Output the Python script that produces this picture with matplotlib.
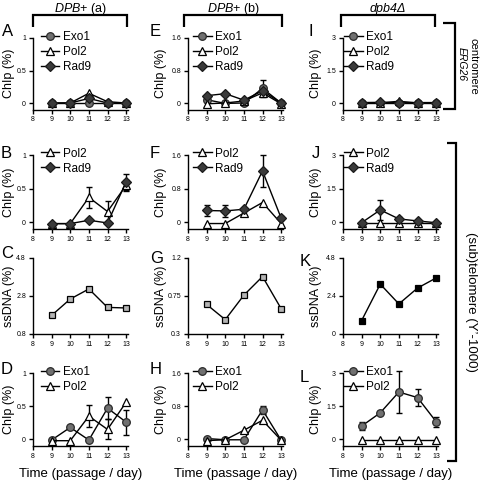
import matplotlib
matplotlib.use('Agg')
import matplotlib.pyplot as plt
from matplotlib.lines import Line2D

plt.rcParams['font.family'] = ['Liberation Sans', 'DejaVu Sans']
plt.rcParams['mathtext.fontset'] = 'custom'
plt.rcParams['mathtext.it'] = 'Liberation Sans:italic'
plt.rcParams['mathtext.rm'] = 'Liberation Sans'

# ---------------- data ----------------
days = [9, 10, 11, 12, 13]
xticks = [8, 9, 10, 11, 12, 13]

A_exo1 = [0.0, 0.0, 0.0, 0.0, 0.0]
A_pol2 = [0.0, 0.0, 0.15, 0.02, 0.0]
A_rad9 = [0.0, 0.0, 0.07, 0.0, 0.0]

E_exo1 = [0.08, -0.01, 0.0, 0.36, 0.0]
E_exo1_err = [0, 0, 0, 0.21, 0]
E_pol2 = [-0.02, 0.0, 0.05, 0.25, -0.02]
E_rad9 = [0.18, 0.23, 0.07, 0.30, 0.0]

I_exo1 = [0.0, 0.0, 0.0, 0.0, 0.0]
I_pol2 = [0.0, 0.0, 0.08, 0.0, 0.0]
I_rad9 = [0.02, 0.03, 0.02, 0.02, 0.02]

B_pol2 = [-0.02, -0.02, 0.37, 0.16, 0.55]
B_pol2_err = [0, 0, 0.16, 0.16, 0.08]
B_rad9 = [-0.02, -0.02, 0.03, -0.01, 0.60]
B_rad9_err = [0, 0, 0, 0, 0.12]

F_pol2 = [-0.03, -0.03, 0.22, 0.47, -0.03]
F_rad9 = [0.28, 0.27, 0.31, 1.22, 0.10]
F_rad9_err = [0.13, 0.14, 0, 0.38, 0.05]

J_pol2 = [-0.05, -0.05, -0.05, -0.05, -0.05]
J_rad9 = [-0.02, 0.55, 0.15, 0.06, -0.02]
J_rad9_err = [0, 0.45, 0.10, 0, 0]

C_ss = [1.78, 2.64, 3.17, 2.20, 2.17]
G_ss = [0.65, 0.47, 0.76, 0.98, 0.60]
K_ss = [0.85, 3.15, 1.90, 2.90, 3.54]

D_exo1 = [-0.01, 0.18, -0.01, 0.47, 0.26]
D_exo1_err = [0, 0, 0, 0.17, 0.19]
D_pol2 = [-0.02, -0.02, 0.35, 0.15, 0.56]
D_pol2_err = [0, 0, 0.17, 0.15, 0]

H_exo1 = [0.02, -0.01, -0.01, 0.71, -0.02]
H_exo1_err = [0, 0, 0, 0.09, 0]
H_pol2 = [-0.03, -0.01, 0.22, 0.46, -0.02]

L_exo1 = [0.60, 1.20, 2.14, 1.89, 0.80]
L_exo1_err = [0.18, 0.07, 0.95, 0.40, 0.22]
L_pol2 = [-0.03, -0.03, -0.03, -0.03, -0.03]

yt_chip1 = [0, 0.5, 1]
yt_chip1_lab = ['0', '0.5', '1']
yt_chip16 = [0, 0.8, 1.6]
yt_chip16_lab = ['0', '0.8', '1.6']
yt_chip3 = [0, 1.5, 3]
yt_chip3_lab = ['0', '1.5', '3']
yt_C = [0.8, 2.8, 4.8]
yt_C_lab = ['0.8', '2.8', '4.8']
yt_G = [0.3, 0.75, 1.2]
yt_G_lab = ['0.3', '0.75', '1.2']
yt_K = [0, 2.4, 4.8]
yt_K_lab = ['0', '2.4', '4.8']

# ---------------- styles ----------------
STY = {
    'Exo1': dict(marker='o', mfc='#707070', mec='#2a2a2a', ms=5.5),
    'Pol2': dict(marker='^', mfc='white', mec='black', ms=5.5),
    'Rad9': dict(marker='D', mfc='#3a3a3a', mec='#1a1a1a', ms=4.8),
    'ssg': dict(marker='s', mfc='#b4b4b4', mec='black', ms=5),
    'ssk': dict(marker='s', mfc='black', mec='black', ms=5),
}

fig = plt.figure(figsize=(4.8, 4.8), dpi=100)
W = H = 480.0

col_left = [33, 188, 343]
col_w = 95
rows = [(38, 109.5), (155, 229), (258, 334), (373, 446)]
ylab_x = [-0.19, -0.22, -0.22]


def make_ax(c, r):
    t, b = rows[r]
    ax = fig.add_axes([col_left[c] / W, 1 - b / H, col_w / W, (b - t) / H])
    ax.spines[['top', 'right']].set_visible(False)
    for s in ['left', 'bottom']:
        ax.spines[s].set_linewidth(1.0)
    ax.set_xlim(8, 13.1)
    ax.set_xticks(xticks)
    ax.set_xticklabels([str(v) for v in xticks])
    ax.tick_params(direction='out', length=3, width=1, labelsize=5, pad=2)
    return ax


def series(ax, y, key, label=None, err=None):
    st = STY[key]
    ax.plot(days, y, color='black', lw=1.0, marker=st['marker'], mfc=st['mfc'],
            mec=st['mec'], ms=st['ms'], mew=0.9, label=label, clip_on=False, zorder=3)
    if err is not None:
        xs = [d for d, e in zip(days, err) if e > 0]
        ys = [v for v, e in zip(y, err) if e > 0]
        es = [e for e in err if e > 0]
        ax.errorbar(xs, ys, yerr=es, fmt='none', ecolor='black', elinewidth=1.0,
                    capsize=2, capthick=1.0, clip_on=False, zorder=2)


def finish(ax, yt, ylab, ymin, ylabel, c, legend=True):
    ax.set_ylim(ymin, yt[-1])
    ax.set_yticks(yt)
    ax.set_yticklabels(ylab)
    ax.set_ylabel(ylabel, fontsize=9)
    ax.yaxis.set_label_coords(ylab_x[c], 0.5)
    if legend:
        ax.legend(loc='upper left', bbox_to_anchor=([0.08, 0.05, 0.01][c], 1.1),
                  frameon=False, fontsize=8.5, handlelength=1.6, handletextpad=0.3,
                  labelspacing=0.25, borderpad=0, borderaxespad=0)


# Row 1
ax = make_ax(0, 0)
series(ax, A_exo1, 'Exo1', 'Exo1'); series(ax, A_pol2, 'Pol2', 'Pol2'); series(ax, A_rad9, 'Rad9', 'Rad9')
finish(ax, yt_chip1, yt_chip1_lab, -0.1, 'ChIp (%)', 0)
ax = make_ax(1, 0)
series(ax, E_exo1, 'Exo1', 'Exo1', E_exo1_err); series(ax, E_pol2, 'Pol2', 'Pol2'); series(ax, E_rad9, 'Rad9', 'Rad9')
finish(ax, yt_chip16, yt_chip16_lab, -0.16, 'ChIp (%)', 1)
ax = make_ax(2, 0)
series(ax, I_exo1, 'Exo1', 'Exo1'); series(ax, I_pol2, 'Pol2', 'Pol2'); series(ax, I_rad9, 'Rad9', 'Rad9')
finish(ax, yt_chip3, yt_chip3_lab, -0.3, 'ChIp (%)', 2)

# Row 2
ax = make_ax(0, 1)
series(ax, B_pol2, 'Pol2', 'Pol2', B_pol2_err); series(ax, B_rad9, 'Rad9', 'Rad9', B_rad9_err)
finish(ax, yt_chip1, yt_chip1_lab, -0.1, 'ChIp (%)', 0)
ax = make_ax(1, 1)
series(ax, F_pol2, 'Pol2', 'Pol2'); series(ax, F_rad9, 'Rad9', 'Rad9', F_rad9_err)
finish(ax, yt_chip16, yt_chip16_lab, -0.16, 'ChIp (%)', 1)
ax = make_ax(2, 1)
series(ax, J_pol2, 'Pol2', 'Pol2'); series(ax, J_rad9, 'Rad9', 'Rad9', J_rad9_err)
finish(ax, yt_chip3, yt_chip3_lab, -0.3, 'ChIp (%)', 2)

# Row 3
ax = make_ax(0, 2)
series(ax, C_ss, 'ssg')
finish(ax, yt_C, yt_C_lab, 0.8, 'ssDNA (%)', 0, legend=False)
ax = make_ax(1, 2)
series(ax, G_ss, 'ssg')
finish(ax, yt_G, yt_G_lab, 0.3, 'ssDNA (%)', 1, legend=False)
ax = make_ax(2, 2)
series(ax, K_ss, 'ssk')
finish(ax, yt_K, yt_K_lab, 0.0, 'ssDNA (%)', 2, legend=False)

# Row 4
ax = make_ax(0, 3)
series(ax, D_exo1, 'Exo1', 'Exo1', D_exo1_err); series(ax, D_pol2, 'Pol2', 'Pol2', D_pol2_err)
finish(ax, yt_chip1, yt_chip1_lab, -0.1, 'ChIp (%)', 0)
ax.set_xlabel('Time (passage / day)', fontsize=9.5, labelpad=6)
ax = make_ax(1, 3)
series(ax, H_exo1, 'Exo1', 'Exo1', H_exo1_err); series(ax, H_pol2, 'Pol2', 'Pol2')
finish(ax, yt_chip16, yt_chip16_lab, -0.16, 'ChIp (%)', 1)
ax.set_xlabel('Time (passage / day)', fontsize=9.5, labelpad=6)
ax = make_ax(2, 3)
series(ax, L_exo1, 'Exo1', 'Exo1', L_exo1_err); series(ax, L_pol2, 'Pol2', 'Pol2')
finish(ax, yt_chip3, yt_chip3_lab, -0.3, 'ChIp (%)', 2)
ax.set_xlabel('Time (passage / day)', fontsize=9.5, labelpad=6)

# ---------------- annotations ----------------
def fx(x):
    return x / W


def fy(y):
    return 1 - y / H


def fline(xs, ys, lw=1.6):
    fig.add_artist(Line2D([fx(x) for x in xs], [fy(y) for y in ys], color='black',
                          lw=lw, transform=fig.transFigure, solid_capstyle='butt',
                          solid_joinstyle='miter'))


letters = [('A', 2, 24), ('B', 1, 146), ('C', 1, 246), ('D', 1, 362),
           ('E', 150, 24), ('F', 150, 146), ('G', 150, 251), ('H', 150, 362),
           ('I', 309, 24), ('J', 312, 146), ('K', 300, 254), ('L', 300, 370)]
for t, x, y in letters:
    fig.text(fx(x), fy(y), t, fontsize=12, ha='left', va='top')

# column headers with brackets
headers = [(r'$\mathit{DPB}$+ (a)', 33, 127), (r'$\mathit{DPB}$+ (b)', 184, 282)]
for txt, x0, x1 in headers:
    fline([x0, x0, x1, x1], [27, 15, 15, 27])
    fig.text(fx((x0 + x1) / 2), fy(9), txt, fontsize=9, ha='center', va='center')
fline([341, 341, 435, 435], [27, 15, 15, 27])
fig.text(fx(388), fy(9), 'dpb4Δ', fontsize=9, ha='center', va='center', style='italic')

# right brackets
fline([443, 455, 455, 443], [23, 23, 109, 109])
fig.text(fx(473.6), fy(66), 'centromere', fontsize=8, rotation=270, ha='center', va='center')
fig.text(fx(461.5), fy(64), 'ERG26', fontsize=7.5, rotation=270, ha='center', va='center', style='italic')
fline([447, 456, 456, 447], [143, 143, 461, 461])
fig.text(fx(471), fy(302), '(sub)telomere (Y’-1000)', fontsize=9.5, rotation=270,
         ha='center', va='center')

fig.savefig('out.png', dpi=100)
